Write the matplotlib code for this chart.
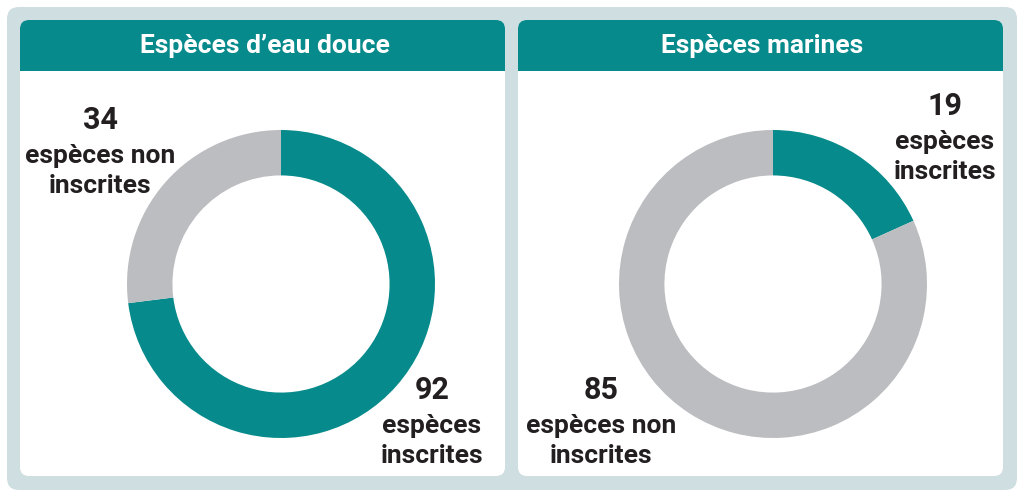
import matplotlib.pyplot as plt
from matplotlib.patches import FancyBboxPatch, Rectangle

plt.rcParams['font.family'] = ['Roboto', 'DejaVu Sans']

titles = ["Espèces d\u2019eau douce", "Espèces marines"]
inscrites = [92, 19]
non_inscrites = [34, 85]

TEAL = "#068a8b"
GREY = "#bcbdc0"
BG = "#cfdee1"
INK = "#231f20"

W, H = 1024, 496
fig = plt.figure(figsize=(W / 100, H / 100), dpi=100)
fig.patch.set_facecolor("white")

# background axes in pixel coordinates (y downwards)
bg = fig.add_axes([0, 0, 1, 1])
bg.set_xlim(0, W)
bg.set_ylim(H, 0)
bg.axis("off")

bg.add_patch(FancyBboxPatch((7, 7), 1010, 483, boxstyle="round,pad=0,rounding_size=12",
                            fc=BG, ec="none"))

panel_x = [20, 518]
panel_w = 485
for i, px in enumerate(panel_x):
    bg.add_patch(FancyBboxPatch((px, 20), panel_w, 456, boxstyle="round,pad=0,rounding_size=9",
                                fc="white", ec="none"))
    bg.add_patch(FancyBboxPatch((px, 20), panel_w, 51, boxstyle="round,pad=0,rounding_size=9",
                                fc=TEAL, ec="none"))
    bg.add_patch(Rectangle((px, 45), panel_w, 26, fc=TEAL, ec="none"))
    bg.text(px + panel_w / 2 + 2, 46, titles[i], color="white", fontsize=19,
            fontweight="bold", ha="center", va="center")

# donuts
centres = [281, 773]
cy = 284
r = 154
for i, cx in enumerate(centres):
    ax = fig.add_axes([(cx - r) / W, (H - cy - r) / H, 2 * r / W, 2 * r / H])
    ax.pie([inscrites[i], non_inscrites[i]], colors=[TEAL, GREY], startangle=90,
           counterclock=False, radius=1, wedgeprops=dict(width=0.295, linewidth=0))
    ax.set_xlim(-1, 1)
    ax.set_ylim(-1, 1)
    ax.set_aspect("equal")
    ax.axis("off")

def label(x, y, num, lines):
    bg.text(x, y, str(num), fontsize=22, fontweight="bold", color=INK, ha="center", va="center")
    bg.text(x, y + 51, lines, fontsize=19, fontweight="bold", color=INK, ha="center",
            va="center", linespacing=1.34)

label(100, 120, non_inscrites[0], "espèces non\ninscrites")
label(432, 390, inscrites[0], "espèces\ninscrites")
label(945, 106, inscrites[1], "espèces\ninscrites")
label(601, 390, non_inscrites[1], "espèces non\ninscrites")

fig.savefig("out.png", dpi=100)
